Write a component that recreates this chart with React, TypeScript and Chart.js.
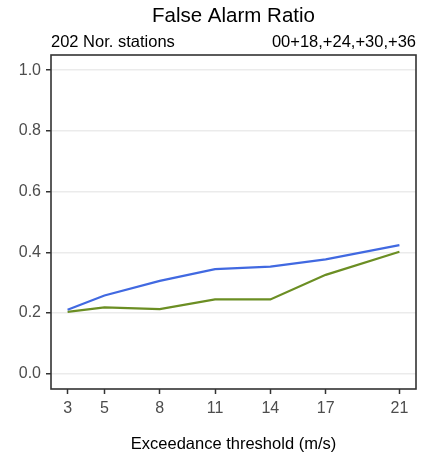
import React, { useEffect, useRef } from "react";
import { Chart, registerables } from "chart.js";

Chart.register(...registerables);

const FONT = '"Liberation Sans", Arial, Helvetica, sans-serif';

const thresholds = [3, 5, 8, 11, 14, 17, 21];
const seriesBlue = [0.211, 0.258, 0.306, 0.345, 0.353, 0.377, 0.424];
const seriesGreen = [0.204, 0.219, 0.213, 0.245, 0.245, 0.326, 0.402];
const yTicks = [0, 0.2, 0.4, 0.6, 0.8, 1.0];

const titleText = "False Alarm Ratio";
const leftNote = "202 Nor. stations";
const rightNote = "00+18,+24,+30,+36";
const xTitle = "Exceedance threshold (m/s)";

const decor = {
  id: "decor",
  beforeDraw(chart: any) {
    const { ctx, width, height } = chart;
    ctx.save();
    ctx.fillStyle = "#ffffff";
    ctx.fillRect(0, 0, width, height);
    ctx.restore();
  },
  afterDraw(chart: any) {
    const { ctx, chartArea: a } = chart;
    ctx.save();
    ctx.strokeStyle = "#333333";
    ctx.lineWidth = 1.6;
    ctx.strokeRect(a.left, a.top, a.right - a.left, a.bottom - a.top);
    ctx.fillStyle = "#000000";
    ctx.textBaseline = "alphabetic";
    ctx.font = `20.5px ${FONT}`;
    ctx.textAlign = "center";
    ctx.fillText(titleText, (a.left + a.right) / 2, 22);
    ctx.font = `16.5px ${FONT}`;
    ctx.textAlign = "left";
    ctx.fillText(leftNote, a.left, 47);
    ctx.textAlign = "right";
    ctx.fillText(rightNote, a.right, 47);
    ctx.textAlign = "center";
    ctx.fillText(xTitle, (a.left + a.right) / 2, 449);
    ctx.restore();
  },
};

export default function App() {
  const ref = useRef<HTMLCanvasElement | null>(null);
  useEffect(() => {
    if (!ref.current) return;
    const chart = new Chart(ref.current, {
      type: "line",
      data: {
        datasets: [
          {
            data: thresholds.map((x, i) => ({ x, y: seriesBlue[i] })),
            borderColor: "#4169E1",
            borderWidth: 2.2,
            pointRadius: 0,
            tension: 0,
            fill: false,
          },
          {
            data: thresholds.map((x, i) => ({ x, y: seriesGreen[i] })),
            borderColor: "#6B8E23",
            borderWidth: 2.2,
            pointRadius: 0,
            tension: 0,
            fill: false,
          },
        ],
      },
      options: {
        animation: false,
        responsive: false,
        maintainAspectRatio: false,
        layout: { padding: { top: 55, right: 15, left: 0, bottom: 0 } },
        plugins: { legend: { display: false }, tooltip: { enabled: false }, title: { display: false } },
        scales: {
          x: {
            type: "linear",
            min: 2.1,
            max: 21.9,
            afterBuildTicks: (s: any) => {
              s.ticks = thresholds.map((v) => ({ value: v }));
            },
            afterFit: (s: any) => {
              s.height = 68;
            },
            grid: {
              drawOnChartArea: false,
              drawTicks: true,
              tickLength: 5,
              tickColor: "#333333",
              tickWidth: 1.5,
            },
            border: { display: false },
            ticks: {
              color: "#4D4D4D",
              font: { family: FONT, size: 16 },
              padding: 5,
              autoSkip: false,
              maxRotation: 0,
              callback: (v: any) => String(v),
            },
          },
          y: {
            type: "linear",
            min: -0.05,
            max: 1.05,
            afterBuildTicks: (s: any) => {
              s.ticks = yTicks.map((v) => ({ value: v }));
            },
            afterFit: (s: any) => {
              s.width = 51;
            },
            grid: {
              color: "#EBEBEB",
              lineWidth: 1.5,
              tickLength: 5,
              tickColor: "#333333",
              tickWidth: 1.5,
            },
            border: { display: false },
            ticks: {
              color: "#4D4D4D",
              font: { family: FONT, size: 16 },
              padding: 5,
              callback: (v: any) => Number(v).toFixed(1),
            },
          },
        },
      },
      plugins: [decor],
    });
    return () => chart.destroy();
  }, []);
  return (
    <div style={{ position: "fixed", left: 0, top: 0, width: 431, height: 457 }}>
      <canvas ref={ref} width={431} height={457} style={{ width: 431, height: 457, display: "block" }} />
    </div>
  );
}
